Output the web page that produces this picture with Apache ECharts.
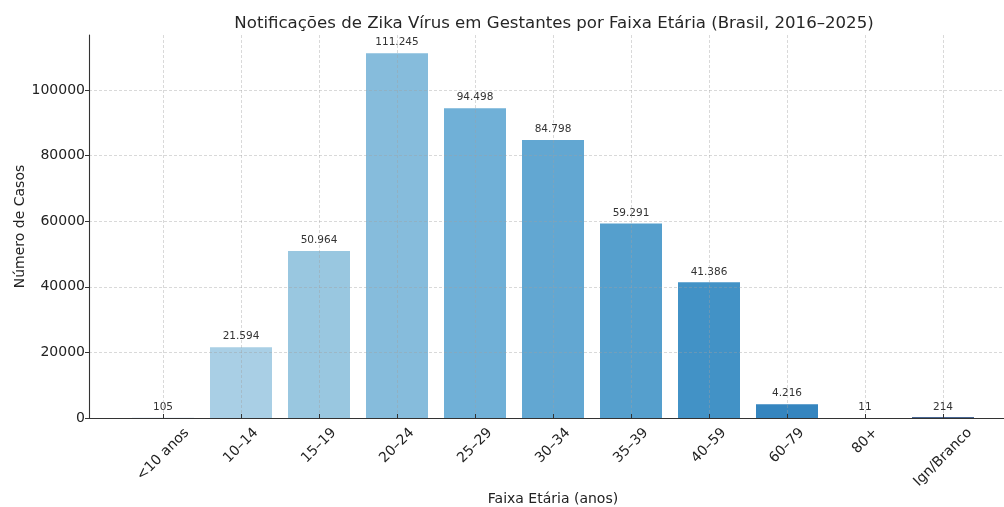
<!DOCTYPE html>
<html>
<head>
<meta charset="utf-8">
<script src="https://cdn.jsdelivr.net/npm/echarts@6/dist/echarts.min.js"></script>
<style>
  html, body { margin: 0; padding: 0; background: #fff; }
  #chart { width: 1004px; height: 507px; }
</style>
</head>
<body>
<div id="chart"></div>
<script>
// faixas etárias e número de notificações
const categories = ['<10 anos', '10–14', '15–19', '20–24', '25–29', '30–34', '35–39', '40–59', '60–79', '80+', 'Ign/Branco']
const casos = [105, 21594, 50964, 111245, 94498, 84798, 59291, 41386, 4216, 11, 214]
const yTicks = [0, 20000, 40000, 60000, 80000, 100000]

// paleta Blues, do mais claro ao mais escuro
const palette = ['#c6dbef', '#a9cfe5', '#99c7e0', '#86bcdc', '#70b0d7', '#62a7d2', '#559fcd', '#4292c6', '#3585bf', '#1f6db1', '#0d3570']

const FONT = '"DejaVu Sans", sans-serif'
const fmtPt = v => String(v).replace(/\B(?=(\d{3})+(?!\d))/g, '.')

// rótulos girados 45° e centrados sob o tick (como no matplotlib)
const ctx = document.createElement('canvas').getContext('2d')
ctx.font = '14px ' + FONT
const rich = {}
categories.forEach((c, i) => {
  const p = (ctx.measureText(c).width + 16) / 2
  rich['c' + i] = { fontSize: 14, color: '#222', fontFamily: FONT, padding: [p, p, 0, 0] }
})

const yMax = Math.max(...casos) * 1.05

const chart = echarts.init(document.getElementById('chart'))
const option = {
  animation: false,
  textStyle: { fontFamily: FONT },
  title: {
    text: 'Notificações de Zika Vírus em Gestantes por Faixa Etária (Brasil, 2016–2025)',
    left: 549,
    textAlign: 'center',
    top: 10,
    textStyle: { fontSize: 16.6, fontWeight: 'normal', color: '#262626', fontFamily: FONT }
  },
  grid: [
    { left: 89, right: -13, top: 35, bottom: 89, outerBoundsMode: 'none' },
    { left: 163, right: 61, top: 35, bottom: 89, outerBoundsMode: 'none' }
  ],
  xAxis: [
    {
      gridIndex: 0, type: 'value', min: 0, max: 1,
      name: 'Faixa Etária (anos)', nameLocation: 'middle', nameGap: 74, nameMoveOverlap: false,
      nameTextStyle: { fontSize: 14, color: '#222', fontFamily: FONT },
      axisLine: { show: true, lineStyle: { color: '#333', width: 1.1 } },
      axisTick: { show: false }, axisLabel: { show: false }, splitLine: { show: false }
    },
    {
      gridIndex: 1, type: 'category', data: categories, boundaryGap: false, z: 3,
      axisLine: { show: false },
      axisTick: { show: true, inside: true, length: 4, lineStyle: { color: '#333' } },
      axisLabel: {
        interval: 0, rotate: 45, margin: 7, align: 'center', verticalAlign: 'middle',
        formatter: (v, i) => '{c' + i + '|' + v + '}',
        rich: rich
      },
      splitLine: { show: true, lineStyle: { color: 'rgba(160,160,160,0.5)', width: 0.8, type: [3, 2] } }
    }
  ],
  yAxis: [
    {
      gridIndex: 0, type: 'value', min: 0, max: yMax, interval: 20000, z: 3,
      name: 'Número de Casos', nameLocation: 'middle', nameGap: 62, nameMoveOverlap: false,
      nameTextStyle: { fontSize: 14, color: '#222', fontFamily: FONT },
      axisLine: { show: true, lineStyle: { color: '#333', width: 1.1 } },
      axisTick: { show: true, length: 4, lineStyle: { color: '#333' } },
      axisLabel: {
        fontSize: 14, color: '#222', margin: 4, showMaxLabel: false,
        formatter: v => (yTicks.includes(v) ? String(v) : '')
      },
      splitLine: { show: true, showMaxLine: false, showMinLine: false, lineStyle: { color: 'rgba(160,160,160,0.5)', width: 0.8, type: [3, 2] } }
    },
    { gridIndex: 1, type: 'value', min: 0, max: yMax, show: false }
  ],
  series: [
    {
      type: 'bar',
      xAxisIndex: 1,
      yAxisIndex: 1,
      barWidth: 62,
      clip: false,
      data: casos.map((v, i) => ({
        value: v,
        itemStyle: { color: palette[i] }
      })),
      label: {
        show: true, position: 'top', distance: 5,
        fontSize: 10.5, color: '#333', fontFamily: FONT,
        formatter: p => fmtPt(p.value)
      }
    }
  ]
}
chart.setOption(option)
</script>
</body>
</html>
